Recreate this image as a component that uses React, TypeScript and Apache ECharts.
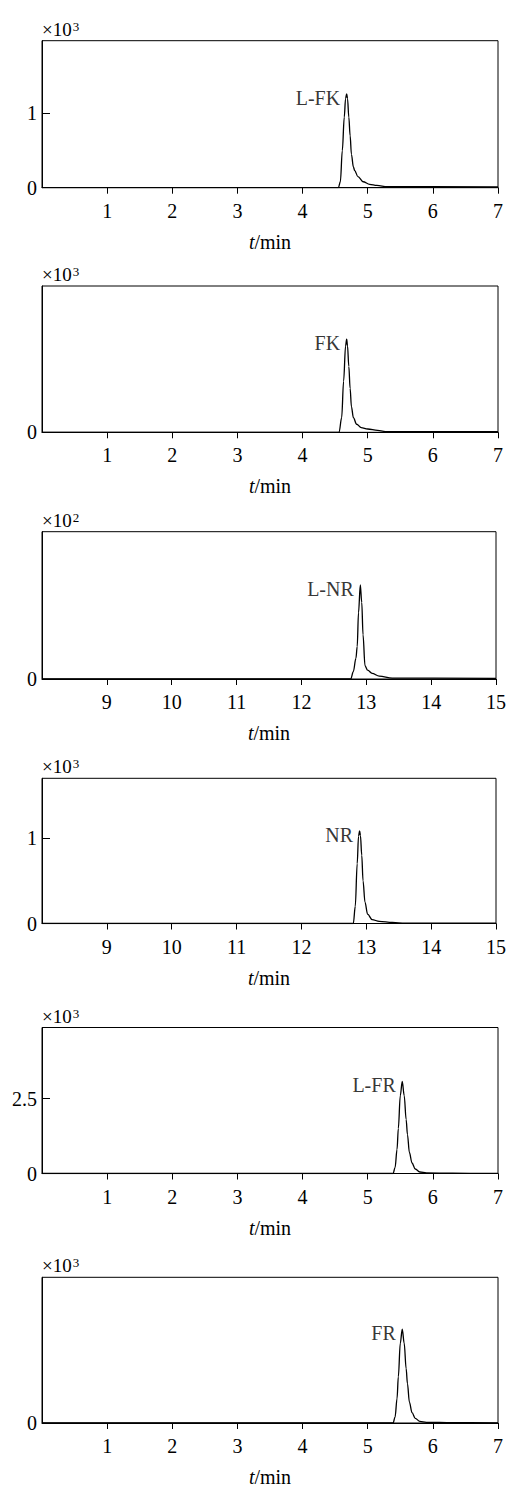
import React, { useEffect, useRef } from "react";
import * as echarts from "echarts";

// ---- data (time in min, signal in counts) ----
const names = ["L-FK", "FK", "L-NR", "NR", "L-FR", "FR"];
const scaleExp = ["3", "3", "2", "3", "3", "3"];
const scaleDiv = [1000, 1000, 100, 1000, 1000, 1000];
const xMin = [0, 0, 8, 8, 0, 0];
const xMax = [7, 7, 15, 15, 7, 7];
const yMax = [1980, 2000, 1000, 1700, 4870, 6300];
const yInterval = [1000, 2000, 1000, 1000, 2500, 6300];

const lfk: number[][] = [[0, 0], [4.55, 0], [4.58, 80], [4.61, 500], [4.64, 950], [4.66, 1200], [4.677, 1265], [4.69, 1200], [4.71, 950], [4.73, 700], [4.75, 450], [4.78, 280], [4.8, 230], [4.85, 150], [4.93, 80], [5.03, 45], [5.14, 30], [5.3, 15], [7, 12]];
const fk: number[][] = [[0, 0], [4.56, 0], [4.6, 200], [4.63, 700], [4.66, 1180], [4.677, 1274], [4.69, 1180], [4.71, 900], [4.73, 600], [4.75, 350], [4.78, 200], [4.83, 110], [4.9, 65], [5.0, 45], [5.15, 25], [5.3, 10], [7, 8]];
const lnr: number[][] = [[8, 0], [12.76, 0], [12.8, 50], [12.84, 140], [12.86, 220], [12.88, 450], [12.908, 638], [12.93, 520], [12.95, 300], [12.98, 90], [13.02, 60], [13.09, 38], [13.2, 20], [13.4, 6], [15, 4]];
const nr: number[][] = [[8, 0], [12.8, 0], [12.83, 200], [12.86, 700], [12.88, 1020], [12.897, 1085], [12.91, 1030], [12.93, 800], [12.95, 500], [12.98, 250], [13.02, 110], [13.09, 45], [13.2, 25], [13.4, 12], [13.6, 5], [15, 3]];
const lfr: number[][] = [[0, 0], [5.39, 0], [5.42, 200], [5.45, 800], [5.47, 1500], [5.5, 2600], [5.53, 3070], [5.56, 2600], [5.59, 1800], [5.61, 1300], [5.64, 700], [5.68, 350], [5.73, 150], [5.8, 50], [5.9, 20], [6.3, 8], [7, 5]];
const fr: number[][] = [[0, 0], [5.39, 0], [5.42, 260], [5.45, 1050], [5.47, 2000], [5.5, 3450], [5.53, 4060], [5.56, 3450], [5.59, 2350], [5.61, 1700], [5.64, 900], [5.68, 450], [5.73, 200], [5.8, 70], [5.9, 30], [6.3, 12], [7, 6]];
const seriesData = [lfk, fk, lnr, nr, lfr, fr];

// layout (px)
const gridTops = [40.7, 286, 531.7, 778.3, 1027.5, 1277.3];
const gridHeights = [147, 146.3, 147.3, 145.2, 146, 146];

const FONT = "Liberation Serif";
const INK = "#000";

export default function App() {
  const ref = useRef<HTMLDivElement>(null);
  useEffect(() => {
    if (!ref.current) return;
    const chart = echarts.init(ref.current, undefined, { renderer: "svg" });
    const grid: any[] = [];
    const xAxis: any[] = [];
    const yAxis: any[] = [];
    const series: any[] = [];
    for (let i = 0; i < 6; i++) {
      grid.push({
        left: 42,
        right: 11,
        top: gridTops[i],
        height: gridHeights[i],
        show: true,
        borderColor: INK,
        borderWidth: 1,
        backgroundColor: "transparent",
      });
      xAxis.push({
        type: "value",
        gridIndex: i,
        min: xMin[i],
        max: xMax[i],
        interval: 1,
        axisLine: { show: true, onZero: false, lineStyle: { color: INK, width: 1 } },
        axisTick: { show: true, inside: false, length: 6, lineStyle: { color: INK, width: 1 } },
        axisLabel: { showMinLabel: false, fontSize: 20, fontFamily: FONT, color: INK, margin: 13 },
        splitLine: { show: false },
        name: "{i|t}/min",
        nameLocation: "middle",
        nameGap: 44,
        nameTextStyle: {
          fontSize: 20,
          fontFamily: FONT,
          color: INK,
          rich: { i: { fontSize: 20, fontFamily: FONT, fontStyle: "italic", color: INK } },
        },
      });
      const div = scaleDiv[i];
      yAxis.push({
        type: "value",
        gridIndex: i,
        min: 0,
        max: yMax[i],
        interval: yInterval[i],
        axisLine: { show: true, lineStyle: { color: INK, width: 1 } },
        axisTick: { show: true, inside: true, length: 8, lineStyle: { color: INK, width: 1 } },
        axisLabel: {
          showMaxLabel: false,
          fontSize: 20,
          fontFamily: FONT,
          color: INK,
          margin: 5,
          formatter: (v: number) => String(v / div),
        },
        splitLine: { show: false },
        name: "{m|×10}{s|" + scaleExp[i] + "}",
        nameLocation: "end",
        nameGap: 2,
        nameTextStyle: {
          fontSize: 19,
          fontFamily: FONT,
          color: INK,
          align: "left",
          verticalAlign: "bottom",
          rich: {
            m: { fontSize: 19, fontFamily: FONT, color: INK, verticalAlign: "bottom" },
            s: { fontSize: 13, fontFamily: FONT, color: INK, verticalAlign: "top", padding: [0, 0, 0, 1] },
          },
        },
      });
      const d = seriesData[i];
      series.push({
        type: "line",
        xAxisIndex: i,
        yAxisIndex: i,
        data: d,
        showSymbol: false,
        smooth: 0.35,
        smoothMonotone: "x",
        lineStyle: { color: INK, width: 1.3 },
        silent: true,
      });
      let pk = d[0];
      d.forEach((p) => { if (p[1] > pk[1]) pk = p; });
      series.push({
        type: "scatter",
        xAxisIndex: i,
        yAxisIndex: i,
        data: [pk],
        symbolSize: 1,
        itemStyle: { color: "transparent" },
        label: {
          show: true,
          position: "left",
          distance: 6,
          offset: [0, 4],
          formatter: () => names[i],
          fontSize: 20,
          fontFamily: FONT,
          color: INK,
        },
        silent: true,
      });
    }
    chart.setOption({
      animation: false,
      backgroundColor: "#fff",
      grid,
      xAxis,
      yAxis,
      series,
    });
    return () => chart.dispose();
  }, []);
  return (
    <div
      ref={ref}
      style={{ position: "absolute", left: 0, top: 0, width: 509, height: 1488 }}
    />
  );
}
